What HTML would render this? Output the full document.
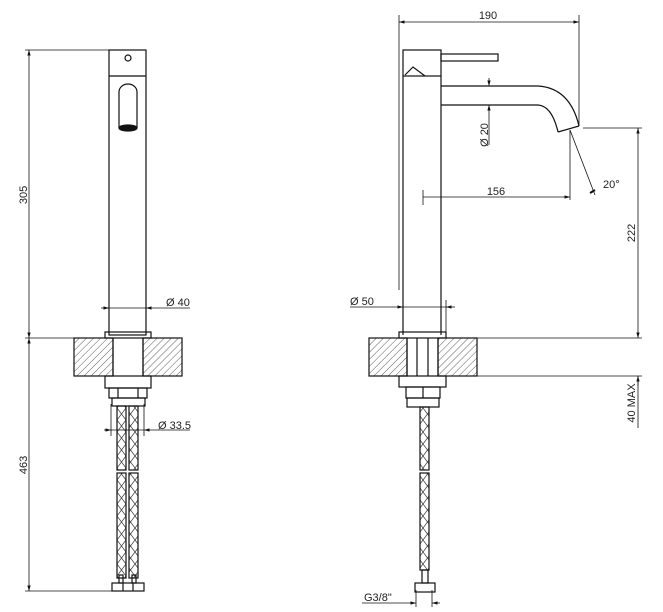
<!DOCTYPE html>
<html><head><meta charset="utf-8"><style>
html,body{margin:0;padding:0;background:#fff;width:663px;height:612px;overflow:hidden}
svg{display:block}
text{font-family:"Liberation Sans",Arial,sans-serif;font-size:11px;fill:#222}
</style></head><body>
<svg width="663" height="612" viewBox="0 0 663 612" xmlns="http://www.w3.org/2000/svg">
<defs>
<pattern id="h" width="5" height="5" patternUnits="userSpaceOnUse" patternTransform="rotate(45)">
<line x1="0" y1="0" x2="0" y2="5" stroke="#333" stroke-width="0.8"/>
</pattern>
<pattern id="br" width="9" height="12" patternUnits="userSpaceOnUse">
<path d="M0,0 L9,12 M9,0 L0,12" stroke="#444" stroke-width="0.8" fill="none"/>
</pattern>
<marker id="a" viewBox="0 0 10 10" refX="10" refY="5" markerWidth="7" markerHeight="7" orient="auto-start-reverse">
<path d="M0,2 L10,5 L0,8 z" fill="#111"/>
</marker>
</defs>
<g stroke="#111" stroke-width="1.2" fill="none">
<!-- LEFT VIEW -->
<rect x="109" y="50" width="37" height="285"/>
<line x1="109" y1="76" x2="146" y2="76"/>
<circle cx="128" cy="58" r="3"/>
<path d="M119,128 L119,92 A9,8 0 0 1 137,92 L137,128"/>
<ellipse cx="128" cy="128" rx="9" ry="3" fill="#111"/>
<rect x="105" y="332" width="46" height="6"/>
<rect x="74" y="338" width="39" height="38" fill="url(#h)"/>
<rect x="143" y="338" width="39" height="38" fill="url(#h)"/>
<line x1="113" y1="338" x2="113" y2="376"/><line x1="143" y1="338" x2="143" y2="376"/>
<rect x="105" y="376" width="46" height="12"/>
<rect x="109" y="388" width="38" height="10"/>
<line x1="118" y1="388" x2="118" y2="398"/><line x1="138" y1="388" x2="138" y2="398"/>
<rect x="112" y="398" width="33" height="8"/>
<rect x="117" y="406" width="9" height="64" fill="url(#br)"/>
<rect x="129" y="406" width="9" height="64" fill="url(#br)"/>
<rect x="117" y="473" width="9" height="105" fill="url(#br)"/>
<rect x="129" y="473" width="9" height="105" fill="url(#br)"/>
<rect x="119" y="575" width="4" height="8"/><rect x="132" y="575" width="4" height="8"/>
<rect x="112" y="583" width="32" height="8"/>
<line x1="123" y1="583" x2="123" y2="591"/><line x1="133" y1="583" x2="133" y2="591"/>
</g>
<g stroke="#111" stroke-width="0.8" fill="none">
<line x1="25" y1="50" x2="109" y2="50"/>
<line x1="29" y1="50" x2="29" y2="338" marker-start="url(#a)" marker-end="url(#a)"/>
<line x1="25" y1="338" x2="74" y2="338"/>
<line x1="29" y1="338" x2="29" y2="591" marker-start="url(#a)" marker-end="url(#a)"/>
<line x1="25" y1="591" x2="112" y2="591"/>
<line x1="101" y1="308" x2="109" y2="308" marker-end="url(#a)"/>
<line x1="109" y1="308" x2="146" y2="308"/>
<line x1="190" y1="308" x2="146" y2="308" marker-end="url(#a)"/>
<line x1="111" y1="404" x2="111" y2="436"/><line x1="144" y1="404" x2="144" y2="436"/>
<line x1="104" y1="430" x2="111" y2="430" marker-end="url(#a)"/>
<line x1="111" y1="430" x2="144" y2="430"/>
<line x1="190" y1="430" x2="144" y2="430" marker-end="url(#a)"/>
</g>
<text transform="translate(27,195) rotate(-90)" text-anchor="middle">305</text>
<text transform="translate(27,465) rotate(-90)" text-anchor="middle">463</text>
<text x="166" y="306">Ø 40</text>
<text x="158" y="429">Ø 33.5</text>

<!-- RIGHT VIEW -->
<g stroke="#111" stroke-width="1.2" fill="none">
<rect x="403" y="50" width="38" height="26"/>
<path d="M405,75 L413,67 L425,76"/>
<rect x="441" y="54" width="57" height="7"/>
<line x1="403" y1="76" x2="403" y2="335"/>
<line x1="441" y1="76" x2="441" y2="335"/>
<path d="M441,86 L538,86 Q570,88 579,126"/>
<path d="M441,105 L538,105 Q552,106 558,132"/>
<line x1="558" y1="132" x2="579" y2="126"/>
<rect x="399" y="332" width="47" height="6"/>
<rect x="369" y="338" width="38" height="38" fill="url(#h)"/>
<rect x="438" y="338" width="39" height="38" fill="url(#h)"/>
<line x1="407" y1="338" x2="407" y2="376"/><line x1="438" y1="338" x2="438" y2="376"/>
<line x1="417" y1="338" x2="417" y2="376"/><line x1="428" y1="338" x2="428" y2="376"/>
<rect x="399" y="376" width="47" height="11"/>
<rect x="406" y="387" width="34" height="11"/>
<line x1="423" y1="387" x2="423" y2="398"/>
<rect x="407" y="398" width="32" height="9"/>
<rect x="420" y="407" width="9" height="63" fill="url(#br)"/>
<rect x="420" y="473" width="9" height="97" fill="url(#br)"/>
<rect x="422" y="570" width="6" height="13"/>
<rect x="415" y="583" width="20" height="9"/>
</g>
<g stroke="#111" stroke-width="0.8" fill="none">
<line x1="399" y1="15" x2="399" y2="290"/>
<line x1="579" y1="15" x2="579" y2="126"/>
<line x1="399" y1="22" x2="579" y2="22" marker-start="url(#a)" marker-end="url(#a)"/>
<line x1="489" y1="78" x2="489" y2="86" marker-end="url(#a)"/>
<line x1="489" y1="145" x2="489" y2="105" marker-end="url(#a)"/>
<line x1="570" y1="130" x2="595" y2="195"/>
<line x1="570" y1="130" x2="570" y2="200"/>
<line x1="423" y1="190" x2="423" y2="205"/>
<line x1="423" y1="197" x2="570" y2="197" marker-end="url(#a)"/>
<line x1="583" y1="128" x2="642" y2="128"/>
<line x1="638" y1="128" x2="638" y2="338" marker-start="url(#a)" marker-end="url(#a)"/>
<line x1="477" y1="338" x2="642" y2="338"/>
<line x1="477" y1="376" x2="642" y2="376"/>
<line x1="638" y1="376" x2="638" y2="428"/>
<line x1="638" y1="386" x2="638" y2="376" marker-end="url(#a)"/>
<line x1="350" y1="307" x2="403" y2="307" marker-end="url(#a)"/>
<line x1="403" y1="307" x2="446" y2="307"/>
<line x1="455" y1="307" x2="446" y2="307" marker-end="url(#a)"/>
<line x1="446" y1="300" x2="446" y2="332"/>
<line x1="416" y1="590" x2="416" y2="607"/><line x1="432" y1="590" x2="432" y2="607"/>
<line x1="362" y1="603" x2="416" y2="603" marker-end="url(#a)"/>
<line x1="440" y1="603" x2="432" y2="603" marker-end="url(#a)"/>
<path d="M590,193 L595,190" stroke-width="2"/>
</g>
<text x="488" y="19" text-anchor="middle">190</text>
<text transform="translate(488,135) rotate(-90)" text-anchor="middle">Ø 20</text>
<text x="496" y="195" text-anchor="middle">156</text>
<text x="603" y="188">20°</text>
<text transform="translate(635,233) rotate(-90)" text-anchor="middle">222</text>
<text transform="translate(635,403) rotate(-90)" text-anchor="middle">40 MAX</text>
<text x="350" y="305">Ø 50</text>
<text x="364" y="601">G3/8"</text>
</svg>
</body></html>
